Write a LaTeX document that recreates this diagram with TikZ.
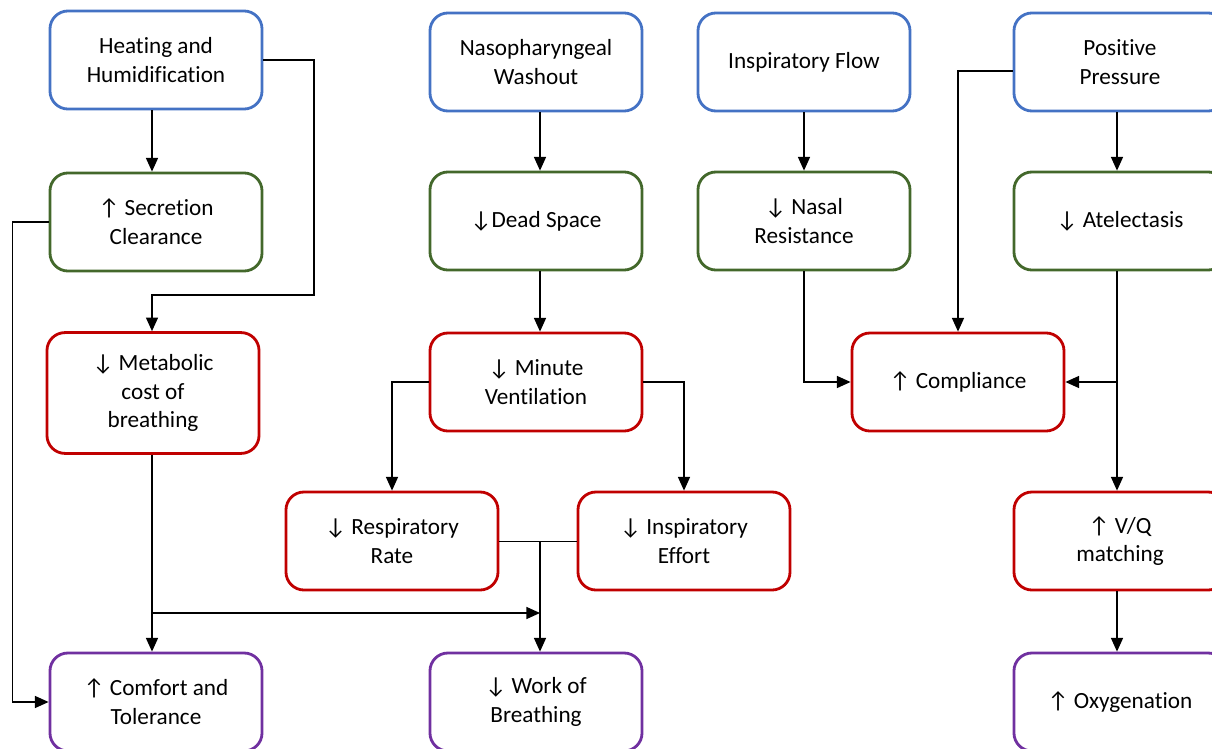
\documentclass[tikz,border=0pt]{standalone}
\usepackage{fontspec}
\setmainfont[Ligatures=NoCommon]{Carlito}
\usetikzlibrary{arrows.meta}
\definecolor{causeblue}{HTML}{4472C4}
\definecolor{effectgreen}{HTML}{43682B}
\definecolor{effectred}{HTML}{C00000}
\definecolor{outcomepurple}{HTML}{7030A0}
\tikzset{
block/.style = {rectangle, rounded corners=0.45cm, draw=#1, line width=2pt,
                minimum width=5.3cm, minimum height=2.45cm, align=center,
                font=\fontsize{16.5}{20.5}\selectfont},
block/.default = black % border colour
}
\tikzset{
link/.style = {-{Triangle[length=0.34cm, width=0.3cm]}, line width=0.9pt}
}

\begin{document}
\begin{tikzpicture}[x=0.025cm, y=-0.025cm]
    \useasboundingbox (0,0) rectangle (1212,749);

    % causes
    \node[block=causeblue] (heat) at (156,60) {Heating and\\Humidification};
    \node[block=causeblue] (washout) at (536,62) {Nasopharyngeal\\Washout};
    \node[block=causeblue] (flow) at (804,62) {Inspiratory Flow};
    \node[block=causeblue] (pressure) at (1120,62) {Positive\\Pressure};

    % first effects
    \node[block=effectgreen] (clearance) at (156,222) {↑ Secretion\\Clearance};
    \node[block=effectgreen] (deadspace) at (536,221) {↓Dead Space};
    \node[block=effectgreen] (nasal) at (804,221) {↓ Nasal\\Resistance};
    \node[block=effectgreen] (atel) at (1120,221) {↓ Atelectasis};

    % physiology
    \node[block=effectred, minimum height=3.02cm] (metab) at (153,393) {↓ Metabolic\\cost of\\breathing};
    \node[block=effectred] (minvent) at (536,382) {↓ Minute\\Ventilation};
    \node[block=effectred] (compl) at (958,382) {↑ Compliance};
    \node[block=effectred] (resprate) at (392,541) {↓ Respiratory\\Rate};
    \node[block=effectred] (effort) at (684,541) {↓ Inspiratory\\Effort};
    \node[block=effectred] (vq) at (1120,541) {↑ V/Q\\matching};

    % outcomes
    \node[block=outcomepurple] (comfort) at (156,702) {↑ Comfort and\\Tolerance};
    \node[block=outcomepurple] (wob) at (536,702) {↓ Work of\\Breathing};
    \node[block=outcomepurple] (oxy) at (1120,702) {↑ Oxygenation};

    \coordinate (bend) at (314,295);
    \coordinate (join) at (540,541);
    \coordinate (split) at (152,613);
    \coordinate (tap) at (1117,378);

    \draw[link] (heat.south -| split) -- (clearance.north -| split);
    \draw[link] (heat.east) -| (bend) -| (metab.north -| split);
    \draw[link] (clearance.west) -- ++(-36,0) |- (comfort.west);
    \draw[link] (metab.south -| split) -- (comfort.north -| split);
    \draw[link] (split) -- (join |- split);

    \draw[link] (washout.south -| join) -- (deadspace.north -| join);
    \draw[link] (deadspace.south -| join) -- (minvent.north -| join);
    \draw[link] (minvent.west) -| (resprate.north);
    \draw[link] (minvent.east) -| (effort.north);
    \draw (resprate.east) -- (effort.west);
    \draw[link] (join) -- (join |- wob.north);

    \draw[link] (flow.south) -- (nasal.north);
    \draw[link] (nasal.south) |- (compl.west);
    \draw[link] ([yshift=-0.225cm]pressure.west) -| (compl.north);
    \draw[link] (pressure.south -| tap) -- (atel.north -| tap);
    \draw[link] (atel.south -| tap) -- (vq.north -| tap);
    \draw[link] (compl.east -| tap) -- (compl.east);
    \draw[link] (vq.south -| tap) -- (oxy.north -| tap);
\end{tikzpicture}
\end{document}
